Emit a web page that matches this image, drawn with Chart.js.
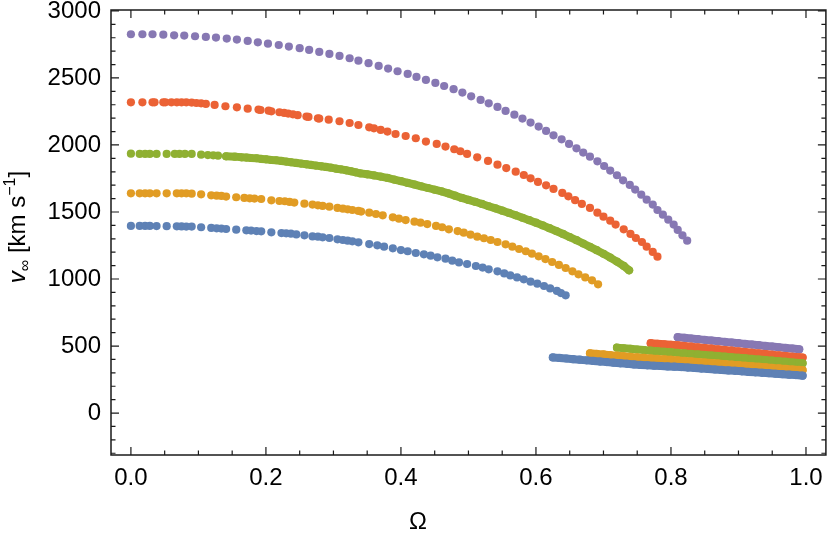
<!DOCTYPE html>
<html>
<head>
<meta charset="utf-8">
<script src="https://cdn.jsdelivr.net/npm/chart.js@4.4.1/dist/chart.umd.min.js"></script>
<style>
  html, body { margin: 0; padding: 0; background: #fff; }
  #wrap { width: 830px; height: 535px; }
</style>
</head>
<body>
<div id="wrap"><canvas id="chart" width="830" height="535"></canvas></div>
<script>
// tick labels
const xTicks = [0, 0.2, 0.4, 0.6, 0.8, 1.0];
const yTicks = [0, 500, 1000, 1500, 2000, 2500, 3000];

// upper branches [Omega, v_inf]
const blueUpper = [
  [0, 1396], [0.013, 1396], [0.021, 1396], [0.028, 1396], [0.038, 1395], [0.053, 1394], [0.068, 1393],
  [0.075, 1392], [0.082, 1391], [0.09, 1391], [0.104, 1386], [0.119, 1381], [0.127, 1378], [0.134, 1376],
  [0.141, 1373], [0.156, 1368], [0.171, 1363], [0.178, 1361], [0.186, 1358], [0.193, 1356], [0.208, 1348],
  [0.223, 1343], [0.23, 1341], [0.237, 1338], [0.245, 1333], [0.257, 1326], [0.269, 1318], [0.277, 1316],
  [0.284, 1311], [0.294, 1306], [0.306, 1296], [0.314, 1291], [0.321, 1286], [0.328, 1281], [0.337, 1274],
  [0.353, 1261], [0.365, 1251], [0.375, 1241], [0.388, 1229], [0.4, 1216], [0.41, 1207], [0.422, 1194],
  [0.434, 1184], [0.444, 1174], [0.454, 1162], [0.466, 1152], [0.476, 1137], [0.486, 1124], [0.498, 1112],
  [0.511, 1097], [0.521, 1085], [0.53, 1072], [0.543, 1057], [0.553, 1042], [0.562, 1027], [0.572, 1012],
  [0.582, 998], [0.592, 980], [0.602, 965], [0.612, 948], [0.621, 930], [0.631, 911], [0.637, 895], [0.644, 878]
];
const orangeUpper = [
  [0, 1639], [0.013, 1639], [0.021, 1639], [0.028, 1639], [0.038, 1639], [0.053, 1639], [0.068, 1639],
  [0.075, 1639], [0.082, 1639], [0.09, 1637], [0.104, 1632], [0.119, 1624], [0.127, 1622], [0.134, 1620],
  [0.141, 1615], [0.156, 1610], [0.168, 1605], [0.176, 1602], [0.183, 1600], [0.193, 1597], [0.208, 1587],
  [0.22, 1582], [0.228, 1580], [0.235, 1575], [0.242, 1570], [0.257, 1562], [0.269, 1555], [0.277, 1550],
  [0.284, 1545], [0.294, 1540], [0.306, 1530], [0.314, 1525], [0.321, 1520], [0.328, 1515], [0.337, 1508],
  [0.341, 1503], [0.353, 1495], [0.363, 1485], [0.373, 1475], [0.388, 1460], [0.397, 1450], [0.407, 1440],
  [0.42, 1428], [0.429, 1420], [0.439, 1410], [0.452, 1396], [0.461, 1386], [0.471, 1371], [0.484, 1358],
  [0.493, 1346], [0.503, 1331], [0.513, 1316], [0.523, 1304], [0.533, 1291], [0.543, 1276], [0.555, 1259],
  [0.565, 1241], [0.575, 1224], [0.585, 1207], [0.594, 1189], [0.604, 1169], [0.614, 1149], [0.624, 1127],
  [0.634, 1105], [0.644, 1082], [0.654, 1057], [0.663, 1035], [0.673, 1012], [0.683, 990], [0.692, 960]
];
const greenUpper = [
  [0, 1935], [0.013, 1933], [0.021, 1933], [0.028, 1933], [0.038, 1933], [0.053, 1933], [0.065, 1933],
  [0.072, 1933], [0.08, 1933], [0.09, 1933], [0.104, 1928], [0.114, 1925], [0.122, 1923], [0.129, 1920],
  [0.141, 1915], [0.154, 1913], [0.164, 1908], [0.171, 1906], [0.178, 1903], [0.186, 1901], [0.193, 1896],
  [0.2, 1893], [0.208, 1888], [0.215, 1886], [0.223, 1881], [0.23, 1876], [0.237, 1871], [0.245, 1866],
  [0.252, 1861], [0.26, 1856], [0.267, 1851], [0.274, 1846], [0.282, 1841], [0.289, 1836], [0.296, 1831],
  [0.304, 1823], [0.311, 1818], [0.319, 1811], [0.326, 1804], [0.333, 1796], [0.34, 1788], [0.35, 1781],
  [0.36, 1773], [0.37, 1764], [0.38, 1754], [0.39, 1742], [0.4, 1730], [0.41, 1717], [0.42, 1705],
  [0.43, 1692], [0.44, 1679], [0.45, 1666], [0.46, 1654], [0.47, 1639], [0.48, 1622], [0.49, 1605],
  [0.5, 1590], [0.51, 1576], [0.52, 1560], [0.53, 1543], [0.54, 1527], [0.55, 1510], [0.56, 1493],
  [0.57, 1475], [0.58, 1457], [0.59, 1439], [0.6, 1420], [0.61, 1400], [0.62, 1379], [0.63, 1358],
  [0.64, 1336], [0.65, 1313], [0.66, 1290], [0.67, 1265], [0.68, 1240], [0.69, 1215], [0.7, 1188],
  [0.71, 1160], [0.72, 1130], [0.73, 1098], [0.738, 1065]
];
const redUpper = [
  [0, 2318], [0.017, 2318], [0.032, 2318], [0.035, 2318], [0.048, 2318], [0.051, 2318], [0.06, 2318],
  [0.068, 2318], [0.075, 2318], [0.082, 2318], [0.09, 2316], [0.097, 2313], [0.104, 2311], [0.111, 2306],
  [0.124, 2299], [0.14, 2289], [0.157, 2281], [0.173, 2271], [0.189, 2264], [0.192, 2261], [0.204, 2256],
  [0.208, 2251], [0.22, 2244], [0.227, 2239], [0.233, 2234], [0.24, 2229], [0.247, 2222], [0.26, 2212],
  [0.263, 2209], [0.277, 2199], [0.279, 2197], [0.293, 2189], [0.309, 2177], [0.324, 2164], [0.337, 2149],
  [0.353, 2132], [0.36, 2124], [0.37, 2112], [0.38, 2100], [0.392, 2082], [0.407, 2067], [0.422, 2050],
  [0.437, 2025], [0.453, 2008], [0.466, 1988], [0.479, 1968], [0.488, 1953], [0.498, 1933], [0.513, 1908],
  [0.529, 1881], [0.543, 1853], [0.556, 1828], [0.57, 1801], [0.582, 1776], [0.592, 1751], [0.603, 1724],
  [0.615, 1699], [0.626, 1672], [0.639, 1642], [0.648, 1617], [0.658, 1588], [0.668, 1560], [0.68, 1530],
  [0.691, 1495], [0.7, 1465], [0.71, 1435], [0.718, 1406], [0.73, 1371], [0.74, 1336], [0.748, 1306],
  [0.757, 1276], [0.764, 1241], [0.773, 1202], [0.78, 1167]
];
const purpleUpper = [
  [0, 2826], [0.017, 2826], [0.032, 2826], [0.048, 2823], [0.064, 2818], [0.079, 2816], [0.095, 2811],
  [0.111, 2806], [0.126, 2801], [0.142, 2794], [0.157, 2786], [0.173, 2776], [0.188, 2766], [0.203, 2756],
  [0.219, 2746], [0.234, 2734], [0.25, 2722], [0.264, 2709], [0.279, 2694], [0.294, 2679], [0.309, 2664],
  [0.324, 2647], [0.337, 2629], [0.352, 2610], [0.367, 2590], [0.381, 2570], [0.395, 2550], [0.41, 2530],
  [0.423, 2508], [0.437, 2485], [0.451, 2463], [0.464, 2440], [0.478, 2416], [0.491, 2391], [0.504, 2363],
  [0.518, 2336], [0.53, 2311], [0.543, 2284], [0.555, 2254], [0.568, 2226], [0.58, 2197], [0.592, 2167],
  [0.604, 2137], [0.615, 2105], [0.626, 2072], [0.638, 2042], [0.649, 2008], [0.66, 1975], [0.67, 1943],
  [0.68, 1913], [0.691, 1878], [0.701, 1843], [0.71, 1809], [0.72, 1774], [0.729, 1736], [0.739, 1702],
  [0.747, 1667], [0.756, 1629], [0.764, 1592], [0.773, 1555], [0.78, 1515], [0.788, 1480], [0.796, 1443],
  [0.804, 1406], [0.81, 1366], [0.817, 1326], [0.824, 1286]
];

// lower branches [Omega, v_inf]
const blueLower = [
  [0.625, 415], [0.635, 411], [0.645, 407], [0.655, 402], [0.665, 398], [0.675, 393], [0.685, 389],
  [0.695, 384], [0.705, 380], [0.715, 376], [0.725, 371], [0.735, 367], [0.745, 363], [0.755, 359],
  [0.765, 356], [0.775, 353], [0.785, 351], [0.795, 348], [0.805, 346], [0.815, 343], [0.825, 339],
  [0.835, 336], [0.845, 332], [0.855, 329], [0.865, 325], [0.875, 322], [0.885, 318], [0.895, 315],
  [0.905, 311], [0.915, 307], [0.925, 304], [0.935, 300], [0.945, 297], [0.955, 293], [0.965, 290],
  [0.975, 286], [0.985, 283], [0.995, 279]
];
const orangeLower = [
  [0.68, 446], [0.69, 441], [0.7, 437], [0.71, 432], [0.72, 428], [0.73, 423], [0.74, 419], [0.75, 415],
  [0.76, 411], [0.77, 407], [0.78, 404], [0.79, 400], [0.8, 397], [0.81, 393], [0.82, 389], [0.83, 385],
  [0.84, 381], [0.85, 377], [0.86, 373], [0.87, 369], [0.88, 365], [0.89, 361], [0.9, 357], [0.91, 353],
  [0.92, 349], [0.93, 345], [0.94, 341], [0.95, 337], [0.96, 333], [0.97, 329], [0.98, 325], [0.99, 322],
  [0.995, 320]
];
const greenLower = [
  [0.72, 488], [0.73, 483], [0.74, 479], [0.75, 474], [0.76, 470], [0.77, 465], [0.78, 461], [0.79, 457],
  [0.8, 453], [0.81, 449], [0.82, 445], [0.83, 441], [0.84, 437], [0.85, 433], [0.86, 429], [0.87, 425],
  [0.88, 421], [0.89, 416], [0.9, 412], [0.91, 408], [0.92, 404], [0.93, 399], [0.94, 395], [0.95, 391],
  [0.96, 386], [0.97, 382], [0.98, 377], [0.99, 373], [0.995, 371]
];
const redLower = [
  [0.77, 521], [0.78, 517], [0.79, 513], [0.8, 509], [0.81, 505], [0.82, 500], [0.83, 495], [0.84, 490],
  [0.85, 485], [0.86, 480], [0.87, 475], [0.88, 470], [0.89, 465], [0.9, 460], [0.91, 455], [0.92, 450],
  [0.93, 445], [0.94, 440], [0.95, 435], [0.96, 430], [0.97, 425], [0.98, 420], [0.99, 416], [0.995, 414]
];
const purpleLower = [
  [0.81, 566], [0.82, 561], [0.83, 556], [0.84, 551], [0.85, 546], [0.86, 541], [0.87, 536], [0.88, 531],
  [0.89, 526], [0.9, 521], [0.91, 516], [0.92, 511], [0.93, 506], [0.94, 501], [0.95, 496], [0.96, 491],
  [0.97, 486], [0.98, 481], [0.99, 476]
];

const colors = {
  blue: '#5E81B5',
  orange: '#E19C24',
  green: '#8FB032',
  red: '#EB6235',
  purple: '#8778B3'
};

const FONT = "'Liberation Sans', Arial, sans-serif";

// dense branches are drawn as touching dots joined by a thick line;
// the line starts at denseFrom so the sparse head stays as loose dots
function series(points, color, denseFrom) {
  const dense = denseFrom !== undefined;
  return {
    data: points.map(p => ({ x: p[0], y: p[1] })),
    backgroundColor: color,
    borderColor: color,
    borderWidth: dense ? 8 : 0,
    pointRadius: 4.1,
    pointHoverRadius: 4.1,
    pointBorderWidth: 0,
    showLine: dense,
    borderCapStyle: 'round',
    borderJoinStyle: 'round',
    segment: dense ? {
      borderColor: c => (c.p0.parsed.x < denseFrom ? 'rgba(0,0,0,0)' : undefined)
    } : undefined
  };
}

// frame with inward ticks on all four sides, plus axis titles
const framePlugin = {
  id: 'frame',
  afterDraw(chart) {
    const { ctx, chartArea: a, scales: { x, y } } = chart;
    ctx.save();
    ctx.strokeStyle = '#1a1a1a';
    ctx.lineWidth = 1.5;
    ctx.strokeRect(a.left, a.top, a.right - a.left, a.bottom - a.top);

    ctx.lineWidth = 1.2;
    ctx.beginPath();
    for (let i = 0; i <= 20; i++) {
      const px = x.getPixelForValue(i * 0.05);
      const len = i % 4 === 0 ? 8 : 4.5;
      ctx.moveTo(px, a.bottom); ctx.lineTo(px, a.bottom - len);
      ctx.moveTo(px, a.top); ctx.lineTo(px, a.top + len);
    }
    for (let v = -300; v <= 3000; v += 100) {
      const py = y.getPixelForValue(v);
      const len = v % 500 === 0 ? 8 : 4.5;
      ctx.moveTo(a.left, py); ctx.lineTo(a.left + len, py);
      ctx.moveTo(a.right, py); ctx.lineTo(a.right - len, py);
    }
    ctx.stroke();

    // x title
    ctx.fillStyle = '#000';
    ctx.font = '24px ' + FONT;
    ctx.textAlign = 'center';
    ctx.textBaseline = 'alphabetic';
    ctx.fillText('Ω', 418, 529);

    // y title: v∞ [km s⁻¹]
    ctx.translate(25, 227);
    ctx.rotate(-Math.PI / 2);
    const parts = [
      { t: 'v', f: 'italic 24px ' + FONT, dy: 0 },
      { t: '∞', f: '16px ' + FONT, dy: 5 },
      { t: ' [km s', f: '24px ' + FONT, dy: 0 },
      { t: '−1', f: '16px ' + FONT, dy: -10 },
      { t: ']', f: '24px ' + FONT, dy: 0 }
    ];
    let total = 0;
    parts.forEach(p => { ctx.font = p.f; p.w = ctx.measureText(p.t).width; total += p.w; });
    let cx = -total / 2;
    ctx.textAlign = 'left';
    parts.forEach(p => { ctx.font = p.f; ctx.fillText(p.t, cx, p.dy); cx += p.w; });
    ctx.restore();
  }
};

new Chart(document.getElementById('chart'), {
  type: 'scatter',
  data: {
    datasets: [
      series(blueUpper, colors.blue),
      series(blueLower, colors.blue, 0),
      series(orangeUpper, colors.orange),
      series(orangeLower, colors.orange, 0),
      series(greenUpper, colors.green, 0.14),
      series(greenLower, colors.green, 0),
      series(redUpper, colors.red),
      series(redLower, colors.red, 0),
      series(purpleUpper, colors.purple),
      series(purpleLower, colors.purple, 0)
    ]
  },
  options: {
    responsive: false,
    animation: false,
    events: [],
    layout: { padding: { top: 10, right: 2, left: 0, bottom: 0 } },
    plugins: { legend: { display: false }, tooltip: { enabled: false } },
    scales: {
      x: {
        type: 'linear',
        min: -0.0295,
        max: 1.0295,
        grid: { display: false },
        border: { display: false },
        afterBuildTicks: s => { s.ticks = xTicks.map(v => ({ value: v })); },
        afterFit: s => { s.height = 80; },
        ticks: {
          font: { family: FONT, size: 24 },
          color: '#000',
          padding: 1,
          maxRotation: 0,
          autoSkip: false,
          callback: v => v.toFixed(1)
        }
      },
      y: {
        type: 'linear',
        min: -313,
        max: 3007,
        grid: { display: true, drawOnChartArea: false, drawTicks: true, tickLength: 10, color: 'rgba(0,0,0,0)' },
        border: { display: false },
        afterBuildTicks: s => { s.ticks = yTicks.map(v => ({ value: v })); },
        afterFit: s => { s.width = 111; },
        ticks: {
          font: { family: FONT, size: 24, lineHeight: 0.8 },
          color: '#000',
          padding: 0,
          autoSkip: false,
          callback: v => String(v)
        }
      }
    }
  },
  plugins: [framePlugin]
});
</script>
</body>
</html>
